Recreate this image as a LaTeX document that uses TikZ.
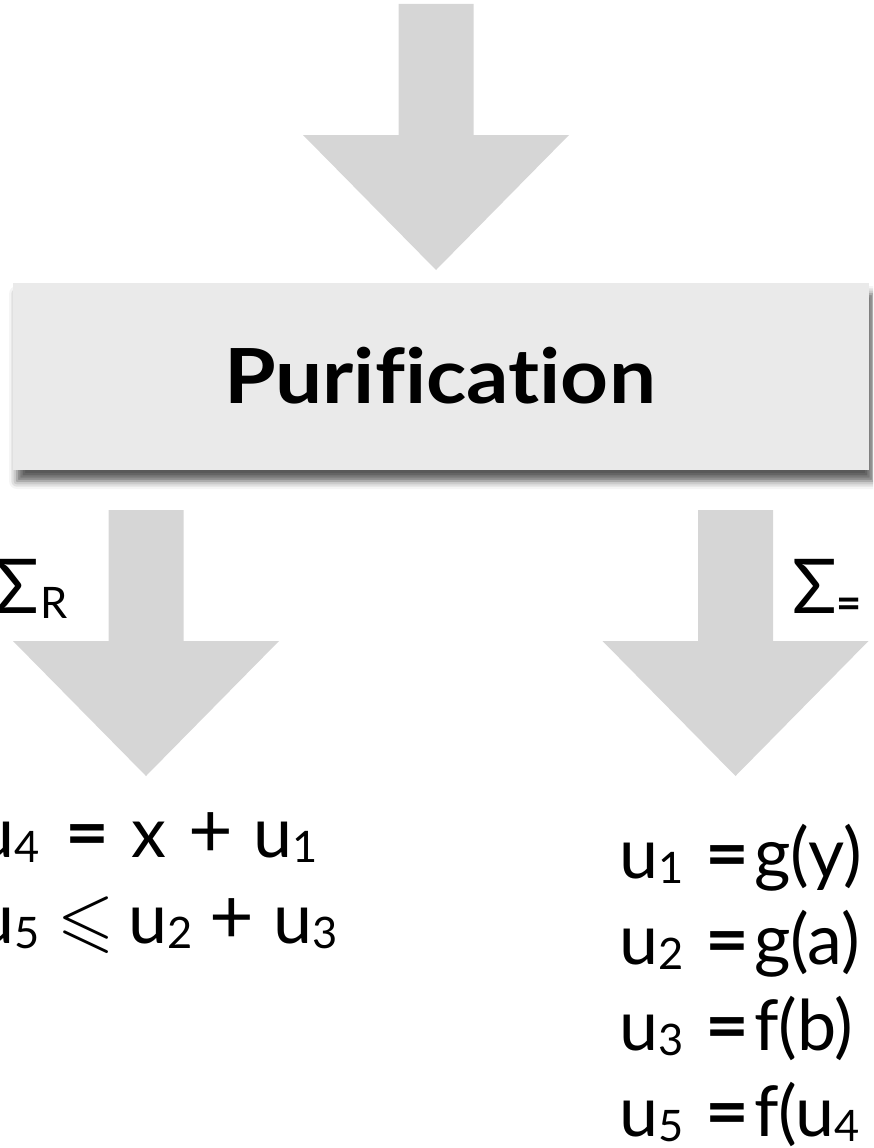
\documentclass[tikz,border=0pt]{standalone}
\usepackage{fontspec}
\usepackage{amssymb}
\setmainfont{Lato}[Ligatures=NoCommon]
\usetikzlibrary{shadows.blur}
\definecolor{arrowgray}{HTML}{D6D6D6}
\definecolor{boxgray}{HTML}{EAEAEA}
% lowered, reduced index
\newcommand{\low}[1]{\raisebox{-0.075em}{\scalebox{0.62}{#1}}}
% left-aligned and centred cells of fixed width
\newcommand{\cell}[2]{\makebox[#1pt][l]{#2}}
\newcommand{\ccell}[2]{\makebox[#1pt][c]{#2}}
\newcommand{\eqsign}{\scalebox{1.08}[1]{\bfseries =}}
\newcommand{\plussign}{\scalebox{1.1}{+}}
\newcommand{\leqsign}{\scalebox{1.05}{$\leqslant$}}
\begin{document}
\begin{tikzpicture}[x=1pt,y=-1pt,
  eq/.style={anchor=base west, inner sep=0pt, font=\fontsize{70}{84}\selectfont},
  title/.style={anchor=base, inner sep=0pt, font=\fontsize{76}{90}\selectfont\bfseries},
  panel/.style={fill=boxgray, draw=none, minimum width=856pt, minimum height=187pt,
    inner sep=0pt, blur shadow={shadow xshift=4pt, shadow yshift=-11pt,
    shadow blur radius=8pt, shadow opacity=65}},
  pics/downarrow/.style={code={
    \fill[arrowgray] (-37.5,0) -- (37.5,0) -- (37.5,131) -- (133,131)
      -- (0,266) -- (-133,131) -- (-37.5,131) -- cycle;}}]
\useasboundingbox (0,0) rectangle (873,1148);
\clip (0,0) rectangle (873,1148);

% incoming arrow and the purification step
\pic at (436,4) {downarrow};
\node[panel] (purif) at (441,376.5) {};
\node[title] (purtext) at (440,403) {\scalebox{1.1}[1]{Purification}};

% the two outgoing arrows
\pic at (146,510) {downarrow};
\pic at (735.5,510) {downarrow};
\node[eq, anchor=base east] (sigR) at (68,613) {\scalebox{1.05}[1.08]{Σ}\kern1pt\low{R}};
\node[eq] (sigE) at (792,613) {\scalebox{1.05}[1.08]{Σ}\low{\bfseries =}};

% arithmetic part
\node[eq] (l1) at (-25,857) {\cell{70}{u\low{4}}\ccell{84}{\eqsign}\ccell{39}{x}\ccell{85}{\plussign}u\low{1}};
\node[eq] (l2) at (-25,943) {\cell{69}{u\low{5}}\ccell{84}{\leqsign}\cell{62}{u\low{2}}\ccell{83}{\plussign}u\low{3}};

% uninterpreted-function part
\node[eq] (r1) at (619,878) {\cell{82}{u\low{1}}\ccell{53}{\eqsign}g(y)};
\node[eq] (r2) at (619,964) {\cell{82}{u\low{2}}\ccell{53}{\eqsign}g(a)};
\node[eq] (r3) at (619,1050) {\cell{82}{u\low{3}}\ccell{53}{\eqsign}f(b)};
\node[eq] (r4) at (619,1136) {\cell{82}{u\low{5}}\ccell{53}{\eqsign}f(u\low{4}};
\end{tikzpicture}
\end{document}
